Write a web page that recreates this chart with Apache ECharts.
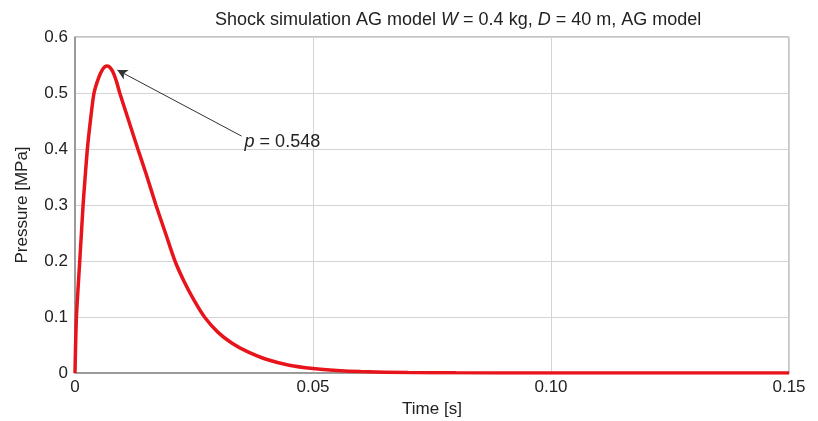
<!DOCTYPE html>
<html>
<head>
<meta charset="utf-8">
<script src="https://cdn.jsdelivr.net/npm/echarts@6/dist/echarts.min.js"></script>
<style>
html,body{margin:0;padding:0;background:#fff;}
#c{width:818px;height:421px;}
</style>
</head>
<body>
<div id="c"></div>
<script>
// Time [s]
var timeValues = [0, 0.0003, 0.001, 0.0017, 0.002, 0.0026, 0.0033, 0.004, 0.005, 0.0058, 0.0063, 0.0068, 0.0073, 0.008, 0.0087, 0.0094, 0.0113, 0.0132, 0.015, 0.017, 0.019, 0.021, 0.023, 0.025, 0.0272, 0.030, 0.033, 0.036, 0.040, 0.045, 0.05, 0.055, 0.06, 0.07, 0.08, 0.10, 0.12, 0.15];
// Pressure [MPa]
var pressureValues = [0, 0.1, 0.2, 0.3, 0.335, 0.4, 0.455, 0.5, 0.528, 0.542, 0.547, 0.548, 0.546, 0.537, 0.521, 0.5, 0.45, 0.4, 0.354, 0.3, 0.25, 0.2, 0.162, 0.13, 0.1, 0.073, 0.053, 0.039, 0.025, 0.014, 0.008, 0.0045, 0.0025, 0.0008, 0.0003, 0, 0, 0];
var xTicks = [0, 0.05, 0.10, 0.15];
var yTicks = [0, 0.1, 0.2, 0.3, 0.4, 0.5, 0.6];
// annotation: arrow from label to peak
var annotFrom = [0.0350, 0.423];
var annotTo = [0.0089, 0.541];
var annotValue = 0.548;

var chart = echarts.init(document.getElementById('c'));
var font = '"Liberation Sans", Arial, Helvetica, sans-serif';
var data = timeValues.map(function (t, i) { return [t, pressureValues[i]]; });

chart.setOption({
  animation: false,
  backgroundColor: '#fff',
  textStyle: { fontFamily: font },
  title: {
    text: '{n|Shock simulation AG model }{i|W}{n| = 0.4 kg, }{i|D}{n| = 40 m, AG model}',
    left: 210,
    top: 6,
    textStyle: {
      fontWeight: 'normal',
      rich: {
        n: { fontFamily: font, fontSize: 18, color: '#222', fontWeight: 'normal' },
        i: { fontFamily: font, fontSize: 18, color: '#222', fontStyle: 'italic', fontWeight: 'normal' }
      }
    }
  },
  grid: {
    left: 75, right: 29, top: 37, bottom: 48,
    containLabel: false,
    outerBoundsMode: 'none',
    show: true, borderColor: '#8a8a8a', borderWidth: 1
  },
  xAxis: {
    type: 'value',
    min: 0, max: 0.15, interval: 0.05,
    name: 'Time [s]',
    nameLocation: 'middle',
    nameGap: 27,
    nameTextStyle: { fontFamily: font, fontSize: 17, color: '#222' },
    axisLine: { lineStyle: { color: '#8a8a8a', width: 1.5 } },
    axisTick: { show: false },
    splitLine: { lineStyle: { color: '#d4d4d4' } },
    axisLabel: {
      fontFamily: font, fontSize: 17, color: '#222', margin: 6,
      formatter: function (v) { return v === 0 ? '0' : v.toFixed(2); }
    }
  },
  yAxis: {
    type: 'value',
    min: 0, max: 0.6, interval: 0.1,
    name: 'Pressure [MPa]',
    nameLocation: 'middle',
    nameGap: 44,
    nameTextStyle: { fontFamily: font, fontSize: 17, color: '#222' },
    axisLine: { show: true, lineStyle: { color: '#8a8a8a', width: 1.5 } },
    axisTick: { show: false },
    splitLine: { lineStyle: { color: '#d4d4d4' } },
    axisLabel: {
      fontFamily: font, fontSize: 17, color: '#222', margin: 7,
      formatter: function (v) { return v === 0 ? '0' : v.toFixed(1); }
    }
  },
  series: [{
    type: 'line',
    data: data,
    smooth: 0.25,
    showSymbol: false,
    lineStyle: { color: '#e8141b', width: 3.5 },
    z: 5,
    markLine: {
      silent: true,
      symbol: ['none', 'arrow'],
      symbolSize: [8, 10],
      lineStyle: { color: '#333', width: 1, type: 'solid' },
      label: { show: false },
      data: [[{ coord: annotFrom }, { coord: annotTo }]]
    },
    markPoint: {
      silent: true,
      symbol: 'circle',
      symbolSize: 0,
      data: [{
        coord: annotFrom,
        label: {
          show: true,
          position: 'right',
          distance: 3,
          offset: [0, 6],
          formatter: '{i|p}{n| = ' + annotValue.toFixed(3) + '}',
          rich: {
            n: { fontFamily: font, fontSize: 18, color: '#222' },
            i: { fontFamily: font, fontSize: 18, color: '#222', fontStyle: 'italic' }
          }
        }
      }]
    }
  }]
});
</script>
</body>
</html>
